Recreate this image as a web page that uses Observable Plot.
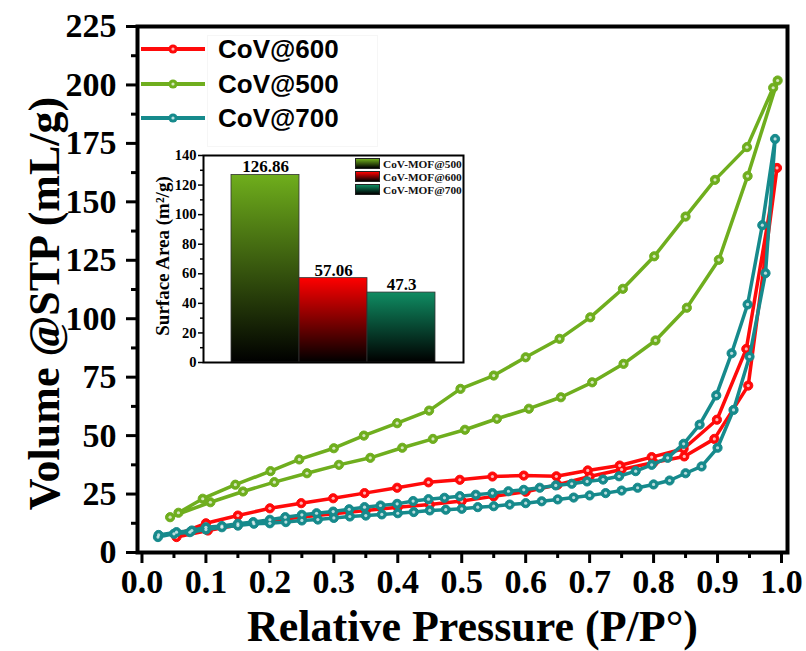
<!DOCTYPE html>
<html><head><meta charset="utf-8">
<script src="https://cdn.jsdelivr.net/npm/d3@7"></script>
<script src="https://cdn.jsdelivr.net/npm/@observablehq/plot@0.6"></script>
<style>
body{margin:0;background:#fff;}
#wrap{position:relative;width:806px;height:651px;overflow:hidden;background:#fff;}
#main,#inset{position:absolute;}
#main{left:0;top:0;}
#inset{left:150px;top:140px;}
#legend{position:absolute;left:140px;top:32px;width:236px;height:112px;}
#legbox{position:absolute;left:207px;top:35px;width:169px;height:110px;border:1px solid #f6f6f6;}
.lrow{position:absolute;left:0;height:30px;display:flex;align-items:center;}
.ltxt{font-family:"Liberation Sans",Arial,sans-serif;font-weight:bold;font-size:26px;color:#000;margin-left:12px;line-height:30px;}
#ilegend{position:absolute;left:355px;top:157px;}
.irow{position:absolute;left:0;height:13px;display:flex;align-items:center;white-space:nowrap;}
.isw{width:25px;height:11px;border:1px solid #222;box-sizing:border-box;flex-shrink:0;}
.itxt{font-family:"Liberation Serif","Times New Roman",serif;font-weight:bold;font-size:11.3px;margin-left:3px;color:#111;}
</style></head><body>
<div id="wrap"><div id="main"></div><div id="legbox"></div><div id="legend"></div><div id="inset"></div><div id="ilegend"></div></div>
<script>
// ---------- Isotherm data ----------
const sampleNames = ["CoV@600", "CoV@500", "CoV@700"];
const sampleColors = ["#ff0a0a", "#6fae1e", "#168a8c"];

const red_ads_x = [0.054, 0.103, 0.15, 0.2, 0.25, 0.3, 0.35, 0.4, 0.45, 0.5, 0.55, 0.6, 0.65, 0.7, 0.75, 0.8, 0.848, 0.895, 0.948, 0.993];
const red_ads_y = [6.6, 9.4, 11.8, 13.5, 15.2, 16.6, 18.0, 19.4, 20.5, 22.0, 24.0, 26.0, 29.0, 32.5, 35.5, 38.5, 41.1, 48.6, 71.4, 164.5];
const red_des_x = [0.945, 0.899, 0.847, 0.797, 0.747, 0.697, 0.648, 0.597, 0.548, 0.497, 0.448, 0.399, 0.348, 0.299, 0.249, 0.2, 0.15, 0.1, 0.054];
const red_des_y = [87.1, 56.8, 44.4, 40.8, 37.2, 35.1, 32.6, 32.9, 32.5, 31.1, 30.0, 27.7, 25.4, 23.2, 21.1, 18.9, 15.8, 12.5, 7.6];

const green_ads_x = [0.044, 0.107, 0.158, 0.207, 0.258, 0.308, 0.357, 0.407, 0.455, 0.505, 0.555, 0.605, 0.655, 0.704, 0.753, 0.803, 0.852, 0.902, 0.947, 0.994];
const green_ads_y = [15.1, 21.5, 26.1, 30.1, 33.9, 37.5, 40.5, 44.8, 48.6, 52.5, 57.2, 61.5, 66.4, 72.8, 80.7, 90.7, 104.7, 125.2, 161.0, 201.9];
const green_des_x = [0.987, 0.946, 0.896, 0.85, 0.801, 0.752, 0.701, 0.653, 0.600, 0.550, 0.498, 0.449, 0.399, 0.347, 0.300, 0.246, 0.201, 0.146, 0.095, 0.057];
const green_des_y = [198.8, 173.4, 159.4, 143.7, 126.7, 112.8, 100.6, 91.4, 83.5, 75.7, 70.0, 60.7, 55.3, 50.0, 44.6, 39.8, 34.8, 29.0, 23.0, 17.0];

const teal_ads_x = [0.025, 0.05, 0.075, 0.1, 0.125, 0.15, 0.175, 0.2, 0.225, 0.25, 0.275, 0.3, 0.325, 0.35, 0.375, 0.4, 0.425, 0.45, 0.475, 0.5, 0.525, 0.55, 0.575, 0.6, 0.625, 0.65, 0.675, 0.7, 0.725, 0.75, 0.775, 0.8, 0.825, 0.85, 0.875, 0.9, 0.925, 0.95, 0.975, 0.99];
const teal_ads_y = [6.6, 8.0, 8.7, 9.8, 10.8, 11.5, 12.3, 12.5, 13.0, 13.7, 14.1, 14.8, 15.4, 15.8, 16.3, 16.8, 17.3, 18.0, 18.3, 18.7, 19.4, 19.8, 20.5, 21.1, 21.9, 22.7, 23.5, 24.4, 25.4, 26.5, 27.7, 29.1, 30.8, 33.9, 36.8, 44.8, 61.0, 83.8, 119.5, 176.9];
const teal_des_x = [0.97, 0.947, 0.922, 0.898, 0.872, 0.847, 0.822, 0.797, 0.772, 0.746, 0.721, 0.696, 0.672, 0.647, 0.622, 0.597, 0.573, 0.548, 0.522, 0.497, 0.473, 0.448, 0.424, 0.399, 0.373, 0.348, 0.324, 0.299, 0.273, 0.25, 0.224, 0.2, 0.174, 0.15, 0.125, 0.1, 0.078, 0.054, 0.026];
const teal_des_y = [140.0, 106.1, 85.2, 67.2, 54.7, 46.5, 40.5, 37.5, 34.8, 32.6, 31.2, 30.4, 29.4, 28.7, 27.7, 26.8, 26.2, 25.4, 24.7, 24.1, 23.4, 22.8, 22.0, 20.8, 20.1, 19.4, 18.5, 17.5, 16.8, 16.1, 15.1, 14.0, 13.0, 12.3, 11.3, 10.8, 9.4, 8.7, 7.5];

const xTicks = [0.0, 0.1, 0.2, 0.3, 0.4, 0.5, 0.6, 0.7, 0.8, 0.9, 1.0];
const xMinorTicks = [0.05, 0.15, 0.25, 0.35, 0.45, 0.55, 0.65, 0.75, 0.85, 0.95];
const yTicks = [0, 25, 50, 75, 100, 125, 150, 175, 200, 225];
const yMinorTicks = [12.5, 37.5, 62.5, 87.5, 112.5, 137.5, 162.5, 187.5, 212.5];
const xTitle = "Relative Pressure (P/P°)";
const yTitle = "Volume @STP (mL/g)";

// ---------- Inset data ----------
const insetNames = ["CoV-MOF@500", "CoV-MOF@600", "CoV-MOF@700"];
const insetValues = [126.86, 57.06, 47.3];
const insetLabels = ["126.86", "57.06", "47.3"];
const insetColors = ["#6fae1c", "#ff0000", "#0f8c62"];
const insetTicks = [0, 20, 40, 60, 80, 100, 120, 140];
const insetMinorTicks = [10, 30, 50, 70, 90, 110, 130];
const insetTitle = "Surface Area (m²/g)";

// ---------- build tables ----------
function loop(name, ax, ay, dx, dy) {
  const rows = [];
  ax.forEach((x, i) => rows.push({sample: name, x, y: ay[i]}));
  dx.forEach((x, i) => rows.push({sample: name, x, y: dy[i]}));
  return rows;
}
const series = {
  "CoV@600": loop("CoV@600", red_ads_x, red_ads_y, red_des_x, red_des_y),
  "CoV@500": loop("CoV@500", green_ads_x, green_ads_y, green_des_x, green_des_y),
  "CoV@700": loop("CoV@700", teal_ads_x, teal_ads_y, teal_des_x, teal_des_y)
};
const drawOrder = ["CoV@600", "CoV@700", "CoV@500"];
const colorOf = n => sampleColors[sampleNames.indexOf(n)];

const serif = "'Liberation Serif','Times New Roman',serif";
const curveMarks = drawOrder.flatMap(n => [
  Plot.line(series[n], {x: "x", y: "y", stroke: colorOf(n), strokeWidth: 3.5}),
  Plot.dot(series[n], {x: "x", y: "y", r: 4.6, fill: colorOf(n), stroke: colorOf(n), strokeWidth: 1}),
  Plot.dot(series[n], {x: "x", y: "y", r: 1.6, fill: "white", fillOpacity: 0.7})
]);

const main = Plot.plot({
  width: 806, height: 651,
  marginLeft: 137, marginRight: 19, marginTop: 26, marginBottom: 99,
  style: {fontFamily: serif, background: "transparent", color: "black", overflow: "visible"},
  x: {domain: [-0.007, 1.0094]},
  y: {domain: [0, 225]},
  marks: [
    Plot.axisX(xMinorTicks, {tickSize: 6, strokeWidth: 3, tickFormat: () => "", label: null}),
    Plot.axisX(xTicks, {tickSize: 11, strokeWidth: 3, tickPadding: 5, tickFormat: d => d.toFixed(1), fontSize: 34, fontWeight: "bold", label: null}),
    Plot.axisY(yMinorTicks, {tickSize: 6, strokeWidth: 3, tickFormat: () => "", label: null}),
    Plot.axisY(yTicks, {tickSize: 11, strokeWidth: 3, tickPadding: 10, fontSize: 34, fontWeight: "bold", label: null}),
    ...curveMarks,
    Plot.frame({stroke: "black", strokeWidth: 4}),
    Plot.text([xTitle], {text: d => d, frameAnchor: "bottom", dy: 74, dx: 10, fontSize: 44, fontWeight: "bold", lineAnchor: "middle", textAnchor: "middle"}),
    Plot.text([yTitle], {text: d => d, frameAnchor: "left", rotate: -90, dx: -93, dy: 14, fontSize: 44, fontWeight: "bold", lineAnchor: "middle", textAnchor: "middle"})
  ]
});
document.getElementById("main").append(main);

// ---------- main legend ----------
const leg = document.getElementById("legend");
sampleNames.forEach((n, i) => {
  const row = document.createElement("div");
  row.className = "lrow";
  row.style.top = (2 + i * 34.5) + "px";
  const c = sampleColors[i];
  row.innerHTML = `<svg width="66" height="14"><line x1="1" y1="7" x2="65" y2="7" stroke="${c}" stroke-width="4"/><circle cx="33" cy="7" r="4.6" fill="${c}"/><circle cx="33" cy="7" r="1.6" fill="white" fill-opacity="0.7"/></svg><span class="ltxt">${n}</span>`;
  leg.append(row);
});

// ---------- inset ----------
const insetRows = insetNames.map((name, i) => ({name, value: insetValues[i], label: insetLabels[i]}));
const defsMark = () => {
  const defs = d3.create("svg:defs");
  insetColors.forEach((c, i) => {
    const g = defs.append("linearGradient").attr("id", "bg" + i).attr("x1", 0).attr("y1", 0).attr("x2", 0).attr("y2", 1);
    g.append("stop").attr("offset", "0%").attr("stop-color", c);
    g.append("stop").attr("offset", "100%").attr("stop-color", "#000");
  });
  return defs.node();
};
const inset = Plot.plot({
  width: 330, height: 240,
  marginLeft: 53, marginRight: 17, marginTop: 15, marginBottom: 18,
  style: {fontFamily: serif, background: "transparent", color: "black", overflow: "visible"},
  x: {domain: insetNames, paddingInner: 0, paddingOuter: 0.39, axis: null},
  y: {domain: [0, 140]},
  marks: [
    defsMark,
    Plot.frame({fill: "white", stroke: "none"}),
    ...insetRows.map((r, i) => Plot.barY([r], {x: "name", y: "value", fill: `url(#bg${i})`, stroke: "#333", strokeWidth: 0.8})),
    Plot.text(insetRows, {x: "name", y: "value", text: "label", dy: -8, fontSize: 17, fontWeight: "bold"}),
    Plot.axisY(insetMinorTicks, {tickSize: 3, strokeWidth: 1.5, tickFormat: () => "", label: null}),
    Plot.axisY(insetTicks, {tickSize: 5, strokeWidth: 1.5, tickPadding: 2, fontSize: 14.5, fontWeight: "bold", label: null}),
    Plot.frame({stroke: "black", strokeWidth: 2}),
    Plot.text([insetTitle], {text: d => d, frameAnchor: "left", rotate: -90, dx: -41, dy: -3, fontSize: 19, fontWeight: "bold", lineAnchor: "middle", textAnchor: "middle"})
  ]
});
document.getElementById("inset").append(inset);

// ---------- inset legend ----------
const il = document.getElementById("ilegend");
insetNames.forEach((n, i) => {
  const row = document.createElement("div");
  row.className = "irow";
  row.style.top = (i * 13) + "px";
  row.innerHTML = `<div class="isw" style="background:linear-gradient(to bottom, ${insetColors[i]}, #000)"></div><span class="itxt">${n}</span>`;
  il.append(row);
});
</script></body></html>
